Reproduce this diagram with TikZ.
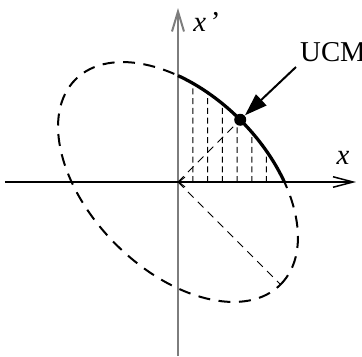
\documentclass[tikz,border=0pt]{standalone}
\usepackage{fontspec}
\setmainfont{Liberation Serif}
\usepackage{tikz}
\usetikzlibrary{arrows.meta, calc, intersections}
\definecolor{axisgray}{RGB}{125,125,125}

\begin{document}
\begin{tikzpicture}[x=0.4pt, y=0.4pt, font=\fontsize{11.5}{13}\selectfont]
  \useasboundingbox (-178,-174) rectangle (184,182);
  \coordinate (O) at (0,0);
  \coordinate (xl) at (-173,0);
  \coordinate (xr) at (178,0);
  \coordinate (yb) at (0,-174);
  \coordinate (yt) at (0,174);
  \coordinate (major) at (102.5,-102.5);
  \coordinate (arcend) at (106,0);
  \coordinate (ucmtail) at (118,115);
  % axes
  \draw[axisgray, line width=0.8pt, -{Straight Barb[length=8pt, width=4.8pt]}] (yb) -- (yt);
  \draw[line width=0.6pt, -{Straight Barb[length=8pt, width=4.2pt]}] (xl) -- (xr);
  \draw[line width=0.4pt, {Straight Barb[length=2.5pt, width=4pt]}-] (O) -- (arcend);
  \node (xlab) at (165,24) {\textit{x}};
  \node (xplab) at (29,160) {\textit{x}\,’};
  % ellipse
  \draw[line width=0.8pt, dash pattern=on 4.8pt off 3.4pt, rotate=-45, name path=ell] (O) ellipse [x radius=145, y radius=88];
  \begin{scope}[rotate=-45]
    \draw[line width=1.3pt, domain=58.75:121.25, samples=40] plot ({145*cos(\x)},{88*sin(\x)});
    \coordinate (minor) at (0,88);
  \end{scope}
  % hatching
  \foreach \xx in {15,29.7,44.4,59.1,73.8,88.5} {
    \path[name path=vline] (\xx,0) -- (\xx,150);
    \draw[line width=0.4pt, dash pattern=on 2.4pt off 1.5pt, name intersections={of=vline and ell}] (\xx,0) -- (intersection-1);
  }
  % semi axes
  \draw[line width=0.4pt, dash pattern=on 3.2pt off 2.4pt] (O) -- (minor);
  \draw[line width=0.4pt, dash pattern=on 3.2pt off 2.4pt] (O) -- (major);
  \node[circle, fill, inner sep=0pt, minimum size=4.8pt] (dot) at (minor) {};
  % UCM pointer
  \node (ucm) at (155,130) {UCM};
  \draw[line width=0.8pt, -{Triangle[length=9pt, width=6pt]}] (ucmtail) -- (dot);
\end{tikzpicture}
\end{document}
